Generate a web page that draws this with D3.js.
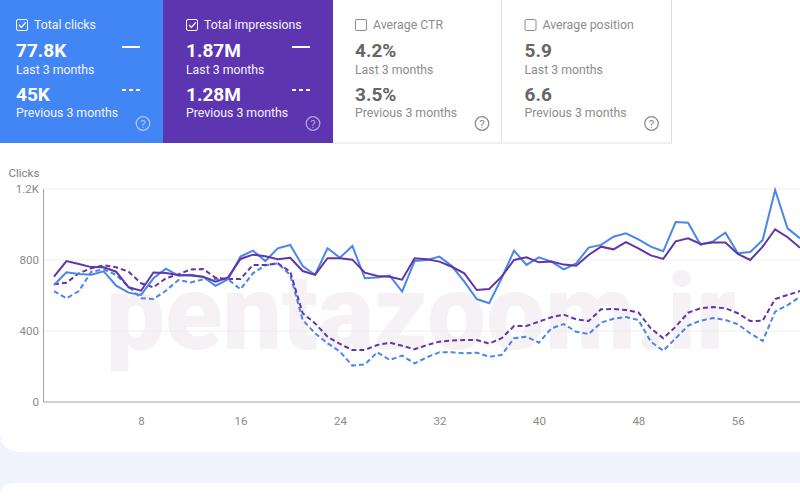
<!DOCTYPE html>
<html>
<head>
  <meta charset="utf-8">
  <script src="https://d3js.org/d3.v7.min.js"></script>
  <style>
    body { margin: 0; overflow: hidden; background: #fff; }
    text { font-family: Roboto, sans-serif; }
    .axis path, .axis line { display: none; }
    .axis text { font-family: Roboto, sans-serif; font-size: 11.5px; fill: #8a8a8a; }
  </style>
  <title>Search performance</title>
</head>
<body>
<svg id="chart" width="800" height="500"></svg>
<script>
// Data
const clicksLast = [659,731,721,717,736,655,616,603,697,751,712,717,704,655,691,819,853,794,866,885,766,717,866,813,879,697,702,712,622,794,800,819,766,678,580,556,697,853,772,815,791,747,781,870,885,931,950,916,875,849,1014,1010,886,905,954,838,845,913,1194,978,922];
const clicksPrev = [625,584,625,734,747,716,650,584,580,627,687,674,691,693,691,635,725,770,781,716,462,387,331,284,205,212,280,237,261,218,252,280,280,274,278,255,265,359,368,334,415,439,396,383,447,469,479,462,340,289,359,430,458,473,462,438,387,344,509,546,593];
const imprLast = [706,794,777,760,759,734,646,627,730,727,715,712,706,678,702,806,830,821,804,813,738,716,810,810,802,729,710,706,689,810,804,791,762,725,631,637,706,800,815,787,791,774,768,828,875,860,901,866,826,806,905,922,890,899,899,834,800,875,973,928,869];
const imprPrev = [663,672,725,754,770,759,734,669,646,697,719,747,749,700,693,693,772,772,781,734,500,443,368,327,293,293,321,334,317,297,321,340,347,349,349,329,359,428,428,453,477,492,466,456,522,524,518,505,415,359,424,503,528,535,528,500,456,458,580,603,625];

const xTicks = [8, 16, 24, 32, 40, 48, 56];
const yTicks = [0, 400, 800, 1200];
const yTickLabels = ["0", "400", "800", "1.2K"];

const cardTitles = ["Total clicks", "Total impressions", "Average CTR", "Average position"];
const cardLast = ["77.8K", "1.87M", "4.2%", "5.9"];
const cardPrev = ["45K", "1.28M", "3.5%", "6.6"];

const blue = "#4285f4";
const purple = "#5e35b1";
const lineBlue = "#4a86e8";
const linePurple = "#5f37a8";

const svg = d3.select("#chart");

// Page background and cards
svg.append("rect").attr("width", 800).attr("height", 500).attr("fill", "#f1f4fc");
svg.append("path").attr("fill", "#fff")
  .attr("d", "M0,0H800V452H22Q0,452 0,432Z");
svg.append("path").attr("fill", "#fff")
  .attr("d", "M0,500V498Q0,483 16,483H800V500Z");

// Watermark
svg.append("text")
  .attr("x", 106).attr("y", 349)
  .attr("textLength", 630)
  .attr("lengthAdjust", "spacingAndGlyphs")
  .style("font-size", "106px")
  .style("font-weight", 900)
  .attr("fill", "#f6f1f4")
  .text("pentazoom.ir");

// Scales
const x = d3.scaleLinear().domain([1, 61]).range([54, 800]);
const y = d3.scaleLinear().domain([0, 1200]).range([402, 189]);

// Grid
svg.append("g").selectAll("line")
  .data(yTicks.slice(1))
  .join("line")
  .attr("x1", 44).attr("x2", 800)
  .attr("y1", d => y(d)).attr("y2", d => y(d))
  .attr("stroke", "#eeeeee");

// Axes
svg.append("g")
  .attr("class", "axis")
  .attr("transform", "translate(44,0)")
  .call(d3.axisLeft(y).tickValues(yTicks).tickFormat((d, i) => yTickLabels[i]).tickSize(0).tickPadding(5));
svg.append("g")
  .attr("class", "axis")
  .attr("transform", "translate(0,402)")
  .call(d3.axisBottom(x).tickValues(xTicks).tickSize(0).tickPadding(15));
svg.append("line").attr("x1", 43.5).attr("x2", 43.5).attr("y1", 189).attr("y2", 402).attr("stroke", "#a3a3a3");
svg.append("line").attr("x1", 43.5).attr("x2", 800).attr("y1", 402).attr("y2", 402).attr("stroke", "#a3a3a3");
svg.append("text").attr("x", 8.5).attr("y", 177).attr("fill", "#808080").style("font-size", "11.5px").text("Clicks");

// Lines
const line = d3.line().x((d, i) => x(i + 1)).y(d => y(d));
const series = [
  { values: clicksPrev, color: lineBlue, dash: "5,3" },
  { values: imprPrev, color: linePurple, dash: "5,3" },
  { values: clicksLast, color: lineBlue, dash: null },
  { values: imprLast, color: linePurple, dash: null }
];
svg.append("g").selectAll("path")
  .data(series)
  .join("path")
  .attr("d", d => line(d.values))
  .attr("fill", "none")
  .attr("stroke", d => d.color)
  .attr("stroke-width", 2)
  .attr("stroke-dasharray", d => d.dash);

// Metric cards
const cardX = [0, 163, 333, 502];
const cardW = [163, 170, 169, 170];
const textX = [16, 186, 355, 524.5];
const active = [true, true, false, false];
const cardFill = [blue, purple, "#fff", "#fff"];

cardTitles.forEach(function (title, i) {
  const on = active[i];
  const g = svg.append("g");
  const tx = textX[i];
  const labelCol = on ? "#f4f4ff" : "#8c8c8c";
  const valueCol = on ? "#fff" : "#666666";

  g.append("rect")
    .attr("x", cardX[i]).attr("y", 0)
    .attr("width", cardW[i]).attr("height", 143)
    .attr("fill", cardFill[i]);

  if (!on) {
    g.append("line").attr("x1", cardX[i]).attr("x2", cardX[i] + cardW[i])
      .attr("y1", 143).attr("y2", 143).attr("stroke", "#e4e4e4");
    g.append("line").attr("x1", cardX[i] + cardW[i] - 0.5).attr("x2", cardX[i] + cardW[i] - 0.5)
      .attr("y1", 0).attr("y2", 143).attr("stroke", "#e0e0e0");
  }

  // Checkbox
  g.append("rect")
    .attr("x", tx + 0.5).attr("y", 19.5)
    .attr("width", 11).attr("height", 11).attr("rx", 1.5)
    .attr("fill", "none")
    .attr("stroke", on ? "#fff" : "#8c8c8c");
  if (on) {
    g.append("path")
      .attr("d", `M${tx + 3},25 l2.4,2.4 l4.4,-5`)
      .attr("fill", "none").attr("stroke", "#fff").attr("stroke-width", 1.3);
  }

  g.append("text").attr("x", tx + 18).attr("y", 29).attr("fill", labelCol)
    .style("font-size", "12.3px").text(title);

  g.append("text").attr("x", tx).attr("y", 57).attr("fill", valueCol)
    .style("font-size", "19px").style("font-weight", 700).text(cardLast[i]);
  g.append("text").attr("x", tx).attr("y", 74).attr("fill", labelCol)
    .style("font-size", "12.3px").text("Last 3 months");
  g.append("text").attr("x", tx).attr("y", 100.5).attr("fill", valueCol)
    .style("font-size", "19px").style("font-weight", 700).text(cardPrev[i]);
  g.append("text").attr("x", tx).attr("y", 117).attr("fill", labelCol)
    .style("font-size", "12.3px").text("Previous 3 months");

  // Legend dashes on the selected cards
  if (on) {
    g.append("line").attr("x1", tx + 106).attr("x2", tx + 124).attr("y1", 47).attr("y2", 47)
      .attr("stroke", "#fff").attr("stroke-width", 2);
    g.append("line").attr("x1", tx + 106).attr("x2", tx + 124).attr("y1", 90).attr("y2", 90)
      .attr("stroke", "#fff").attr("stroke-width", 2).attr("stroke-dasharray", "4,3");
  }

  // Help icon
  const hx = tx + 127;
  const helpCol = on ? "rgba(255,255,255,0.55)" : "#8c8c8c";
  g.append("circle").attr("cx", hx).attr("cy", 123.5).attr("r", 6.8)
    .attr("fill", "none").attr("stroke", helpCol).attr("stroke-width", 1.3);
  g.append("text").attr("x", hx).attr("y", 127.8).attr("text-anchor", "middle")
    .attr("fill", helpCol).style("font-size", "11.5px").text("?");
});
</script>
</body>
</html>
